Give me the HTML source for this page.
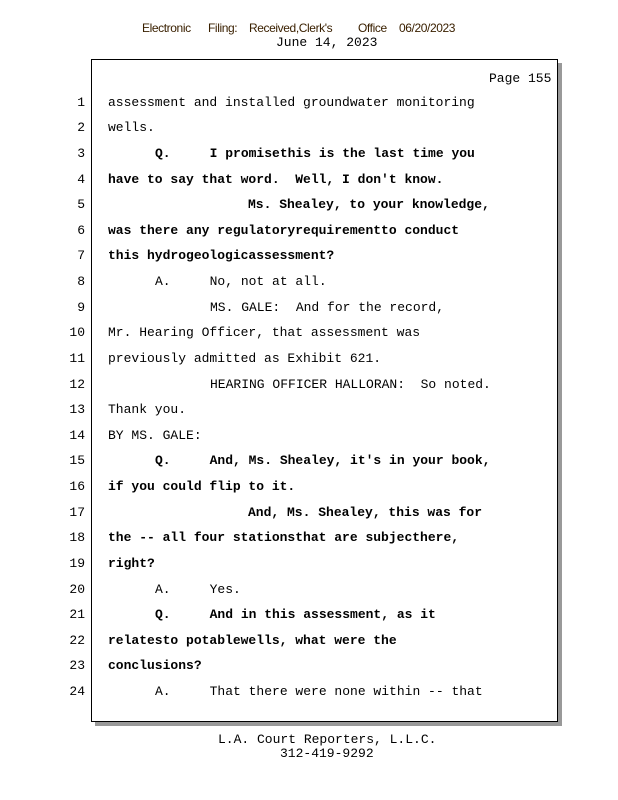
<!DOCTYPE html>
<html><head><meta charset="utf-8"><style>
body{margin:0;width:618px;height:800px;background:#fff;position:relative;overflow:hidden;font-family:"Liberation Mono",monospace;font-size:13px;color:#000}
.a{position:absolute;white-space:pre;line-height:16px}
.n{position:absolute;width:40px;left:45px;text-align:right;line-height:16px;font-family:"Liberation Mono",monospace;font-size:13px}
.b{font-weight:bold}
.h{position:absolute;font-family:"Liberation Sans",sans-serif;font-size:12px;color:#3a2000;letter-spacing:-0.4px;top:21px}
</style></head><body>
<div class="h" style="left:142px">Electronic</div>
<div class="h" style="left:208px">Filing:</div>
<div class="h" style="left:249px">Received,Clerk's</div>
<div class="h" style="left:358px">Office</div>
<div class="h" style="left:399px">06/20/2023</div>
<div class="a" style="left:276px;top:35px">June 14, 2023</div>
<div style="position:absolute;left:95px;top:63px;width:467px;height:663px;background:#999"></div>
<div style="position:absolute;left:91px;top:59px;width:465px;height:661px;border:1px solid #000;background:#fff"></div>
<div class="a" style="left:489px;top:71px">Page 155</div>
<div class="n" style="top:95px">1</div><div class="a" style="left:108px;top:95px">assessment and installed groundwater monitoring</div>
<div class="n" style="top:120px">2</div><div class="a" style="left:108px;top:120px">wells.</div>
<div class="n" style="top:146px">3</div><div class="a b" style="left:155px;top:146px">Q.     I promisethis is the last time you</div>
<div class="n" style="top:172px">4</div><div class="a b" style="left:108px;top:172px">have to say that word.  Well, I don't know.</div>
<div class="n" style="top:197px">5</div><div class="a b" style="left:248px;top:197px">Ms. Shealey, to your knowledge,</div>
<div class="n" style="top:223px">6</div><div class="a b" style="left:108px;top:223px">was there any regulatoryrequirementto conduct</div>
<div class="n" style="top:248px">7</div><div class="a b" style="left:108px;top:248px">this hydrogeologicassessment?</div>
<div class="n" style="top:274px">8</div><div class="a" style="left:155px;top:274px">A.     No, not at all.</div>
<div class="n" style="top:300px">9</div><div class="a" style="left:210px;top:300px">MS. GALE:  And for the record,</div>
<div class="n" style="top:325px">10</div><div class="a" style="left:108px;top:325px">Mr. Hearing Officer, that assessment was</div>
<div class="n" style="top:351px">11</div><div class="a" style="left:108px;top:351px">previously admitted as Exhibit 621.</div>
<div class="n" style="top:377px">12</div><div class="a" style="left:210px;top:377px">HEARING OFFICER HALLORAN:  So noted.</div>
<div class="n" style="top:402px">13</div><div class="a" style="left:108px;top:402px">Thank you.</div>
<div class="n" style="top:428px">14</div><div class="a" style="left:108px;top:428px">BY MS. GALE:</div>
<div class="n" style="top:453px">15</div><div class="a b" style="left:155px;top:453px">Q.     And, Ms. Shealey, it's in your book,</div>
<div class="n" style="top:479px">16</div><div class="a b" style="left:108px;top:479px">if you could flip to it.</div>
<div class="n" style="top:505px">17</div><div class="a b" style="left:248px;top:505px">And, Ms. Shealey, this was for</div>
<div class="n" style="top:530px">18</div><div class="a b" style="left:108px;top:530px">the -- all four stationsthat are subjecthere,</div>
<div class="n" style="top:556px">19</div><div class="a b" style="left:108px;top:556px">right?</div>
<div class="n" style="top:582px">20</div><div class="a" style="left:155px;top:582px">A.     Yes.</div>
<div class="n" style="top:607px">21</div><div class="a b" style="left:155px;top:607px">Q.     And in this assessment, as it</div>
<div class="n" style="top:633px">22</div><div class="a b" style="left:108px;top:633px">relatesto potablewells, what were the</div>
<div class="n" style="top:658px">23</div><div class="a b" style="left:108px;top:658px">conclusions?</div>
<div class="n" style="top:684px">24</div><div class="a" style="left:155px;top:684px">A.     That there were none within -- that</div>
<div class="a" style="left:218px;top:732px">L.A. Court Reporters, L.L.C.</div>
<div class="a" style="left:280px;top:746px">312-419-9292</div>
</body></html>
